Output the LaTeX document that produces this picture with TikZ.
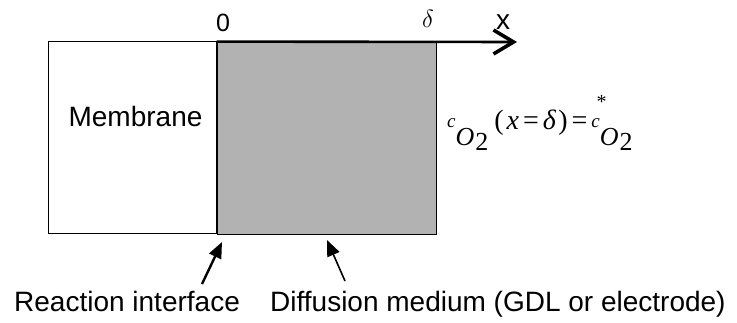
\documentclass[tikz,border=0pt]{standalone}
\usepackage{fontspec}
\setmainfont{Liberation Sans}
\newfontfamily\seriffont{Liberation Serif}
\usetikzlibrary{arrows.meta}
\newcommand\myfs[1]{\fontsize{#1}{#1}\selectfont}
\newcommand\cOtwo{{\myfs{19}\itshape c}\raisebox{-18pt}{\myfs{26}\itshape O\kern1pt\raisebox{-5pt}{\upshape 2}}}
\tikzset{
  lbl/.style={inner sep=0pt, font=\myfs{28}},
  callout/.style={-{Triangle[length=16pt,width=13pt]}, line width=2.4pt},
}
\begin{document}
\begin{tikzpicture}[x=1pt,y=-1pt]
\useasboundingbox (0,0) rectangle (737,323);
% boxes
\node[draw, line width=1pt, minimum width=169pt, minimum height=192pt, inner sep=0pt] (mem) at (132.5,138) {};
\node[draw, line width=0.8pt, fill=black!30, minimum width=219pt, minimum height=192pt, inner sep=0pt] (gdl) at (326.5,138) {};
\draw[line width=2.2pt] (gdl.north west) -- (gdl.south west);
\node[lbl, anchor=base] (memtxt) at (135.5,127) {Membrane};
% axis
\coordinate (xend) at (517,42);
\draw[line width=2.6pt, -{Straight Barb[length=20pt,width=24pt,line width=3.6pt]}] (gdl.north west) -- (xend);
\node[lbl, font=\myfs{25}, anchor=base] (zero) at (223,32) {0};
\node[lbl, font=\myfs{23}\seriffont, anchor=base] (delta) at (428,28) {$\delta$};
\node[lbl, anchor=base] (xlab) at (503,30) {x};
% equation
\node[inner sep=0pt, anchor=base west, font=\seriffont] (eq) at (447,128)
  {\cOtwo\kern6pt\raisebox{-2pt}{\myfs{28}(\kern3pt\textit{x}\kern4pt=\kern4pt\textit{δ}\kern2pt)\kern4pt=\kern4pt}\cOtwo\llap{\raisebox{19pt}{\myfs{20}*}\kern26pt}};
% bottom labels
\node[lbl, anchor=base west] (react) at (14,312) {Reaction interface};
\node[lbl, anchor=base west] (diff) at (270,312) {Diffusion medium (GDL or electrode)};
% callouts
\coordinate (r0) at (202,284);
\coordinate (r1) at (222,242);
\coordinate (d0) at (345,281);
\coordinate (d1) at (327,240);
\draw[callout] (r0) -- (r1);
\draw[callout, line width=1.6pt] (d0) -- (d1);
\end{tikzpicture}
\end{document}
